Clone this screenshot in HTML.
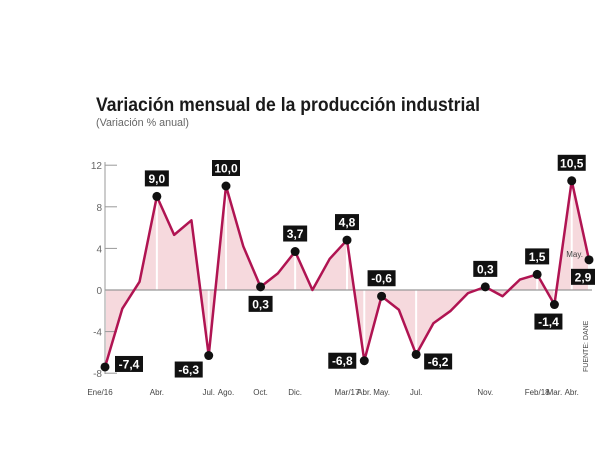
<!DOCTYPE html>
<html><head><meta charset="utf-8"><style>
body{margin:0;background:#fff;}
svg{display:block;font-family:"Liberation Sans",sans-serif;}
</style></head><body>
<svg id="chart" width="600" height="455" viewBox="0 0 600 455">
<text x="96" y="111" font-size="19" font-weight="bold" fill="#1a1a1a" textLength="384" lengthAdjust="spacingAndGlyphs">Variación mensual de la producción industrial</text>
<text x="96" y="126" font-size="11" fill="#666" textLength="93" lengthAdjust="spacingAndGlyphs">(Variación % anual)</text>
<text transform="translate(588,372) rotate(-90)" font-size="7" fill="#444">FUENTE: DANE</text>
<g id="plot"></g>
</svg>
<script>
const values=[-7.4,-1.8,0.8,9.0,5.3,6.7,-6.3,10.0,4.2,0.3,1.6,3.7,0.0,3.0,4.8,-6.8,-0.6,-1.9,-6.2,-3.2,-2.0,-0.3,0.3,-0.6,1.0,1.5,-1.4,10.5,2.9];
const labeled=[0,3,6,7,9,11,14,15,16,18,22,25,26,27,28];
const labelText=["-7,4","9,0","-6,3","10,0","0,3","3,7","4,8","-6,8","-0,6","-6,2","0,3","1,5","-1,4","10,5","2,9"];
const labelOffset=[[24,-3],[0,-18],[-20,14],[0,-18],[0,17],[0,-18],[0,-18],[-22,0],[0,-18],[22,7],[0,-18],[0,-18],[-6,17],[0,-18],[-6,17]];
const xTickIdx=[0,3,6,7,9,11,14,15,16,18,22,25,26,27];
const xTickLabels=["Ene/16","Abr.","Jul.","Ago.","Oct.","Dic.","Mar/17","Abr.","May.","Jul.","Nov.","Feb/18","Mar.","Abr."];
const yTicks=[12,8,4,0,-4,-8];
const yTickLabels=["12","8","4","0","-4","-8"];
const NS="http://www.w3.org/2000/svg";
const g=document.getElementById('plot');
const x=i=>105+i*(589-105)/28;
const y=v=>290-v*10.4;
function mk(t,a){const e=document.createElementNS(NS,t);for(const k in a)e.setAttribute(k,a[k]);g.appendChild(e);return e;}
let d="M"+x(0)+","+y(0);values.forEach((v,i)=>d+=" L"+x(i)+","+y(v));d+=" L"+x(values.length-1)+","+y(0)+" Z";
const area=mk('path',{d:d,fill:"#f6d9dd"});


labeled.forEach(i=>{const l=mk('line',{x1:x(i),x2:x(i),y1:y(0),y2:y(values[i]),stroke:"#fff","stroke-width":2});

});
const ax=mk('line',{x1:105,x2:105,y1:162,y2:374,stroke:"#999","stroke-width":1});


const zl=mk('line',{x1:105,x2:592,y1:y(0),y2:y(0),stroke:"#999","stroke-width":1.2});


yTicks.forEach((v,k)=>{const t=mk('line',{x1:105,x2:117,y1:y(v),y2:y(v),stroke:"#999"});


const tx=mk('text',{x:102,y:y(v)+4,"font-size":10,fill:"#666","text-anchor":"end"});tx.textContent=yTickLabels[k];

});
xTickIdx.forEach((i,k)=>{const tx=mk('text',{x:x(i)+(k==0?-5:0),y:395,"font-size":8,fill:"#444","text-anchor":"middle"});tx.textContent=xTickLabels[k];

});
const ln=mk('polyline',{points:values.map((v,i)=>x(i)+","+y(v)).join(" "),fill:"none",stroke:"#b01452","stroke-width":2.5,"stroke-linejoin":"round"});


labeled.forEach((i,k)=>{const c=mk('circle',{cx:x(i),cy:y(values[i]),r:4.5,fill:"#111"});


const cx=x(i)+labelOffset[k][0],cy=y(values[i])+labelOffset[k][1];
const w=labelText[k].length>3?28:24;
const r=mk('rect',{x:cx-w/2,y:cy-8,width:w,height:16,fill:"#111"});


const t=mk('text',{x:cx,y:cy+4.5,"font-size":12,"font-weight":"bold",fill:"#fff","text-anchor":"middle"});t.textContent=labelText[k];

});
const may=mk('text',{x:x(28)-6,y:y(2.9)-3,"font-size":8,fill:"#444","text-anchor":"end"});may.textContent="May.";


</script>
</body></html>
